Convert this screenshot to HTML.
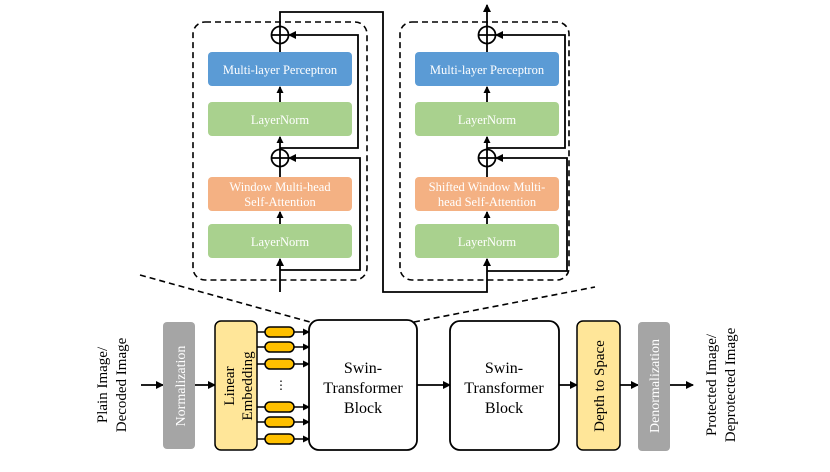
<!DOCTYPE html>
<html><head><meta charset="utf-8"><style>
html,body{margin:0;padding:0;background:#fff;}
svg text{font-family:"Liberation Serif",serif;}
</style></head><body>
<svg width="830" height="467" viewBox="0 0 830 467" xmlns="http://www.w3.org/2000/svg">
<defs>
<marker id="a" markerWidth="8" markerHeight="8" refX="7" refY="4" orient="auto" markerUnits="userSpaceOnUse"><path d="M0,0 L8,4 L0,8 z" fill="#000"/></marker>
<marker id="s" markerWidth="7" markerHeight="7" refX="6" refY="3.5" orient="auto" markerUnits="userSpaceOnUse"><path d="M0,0 L7,3.5 L0,7 z" fill="#000"/></marker>
</defs>
<rect x="193" y="22" width="174" height="258" rx="12" fill="none" stroke="#000" stroke-width="1.6" stroke-dasharray="6,4"/>
<rect x="400" y="22" width="169" height="258" rx="12" fill="none" stroke="#000" stroke-width="1.6" stroke-dasharray="6,4"/>
<line x1="140" y1="275" x2="310" y2="322" stroke="#000" stroke-width="1.6" stroke-dasharray="6,4"/>
<line x1="414" y1="322" x2="595" y2="287" stroke="#000" stroke-width="1.6" stroke-dasharray="6,4"/>

<g font-size="12.5" fill="#fff" text-anchor="middle">
<rect x="208" y="52" width="144" height="34" rx="4" fill="#5b9bd5"/>
<text x="280" y="74">Multi-layer Perceptron</text>
<rect x="208" y="102" width="144" height="34" rx="4" fill="#a9d18e"/>
<text x="280" y="124">LayerNorm</text>
<rect x="208" y="177" width="144" height="34" rx="4" fill="#f4b183"/>
<text x="280" y="191">Window Multi-head</text>
<text x="280" y="206">Self-Attention</text>
<rect x="208" y="224" width="144" height="34" rx="4" fill="#a9d18e"/>
<text x="280" y="246">LayerNorm</text>
<rect x="415" y="52" width="144" height="34" rx="4" fill="#5b9bd5"/>
<text x="487" y="74">Multi-layer Perceptron</text>
<rect x="415" y="102" width="144" height="34" rx="4" fill="#a9d18e"/>
<text x="487" y="124">LayerNorm</text>
<rect x="415" y="177" width="144" height="34" rx="4" fill="#f4b183"/>
<text x="487" y="191">Shifted Window Multi-</text>
<text x="487" y="206">head Self-Attention</text>
<rect x="415" y="224" width="144" height="34" rx="4" fill="#a9d18e"/>
<text x="487" y="246">LayerNorm</text>
</g>

<g stroke="#000" stroke-width="1.8" fill="none">
<line x1="280" y1="292" x2="280" y2="259" marker-end="url(#a)"/>
<line x1="280" y1="224" x2="280" y2="212" marker-end="url(#s)"/>
<line x1="280" y1="177" x2="280" y2="167"/>
<circle cx="280" cy="158" r="8.5"/>
<line x1="271.5" y1="158" x2="288.5" y2="158"/><line x1="280" y1="149.5" x2="280" y2="166.5"/>
<line x1="280" y1="149.5" x2="280" y2="137" marker-end="url(#s)"/>
<line x1="280" y1="102" x2="280" y2="87" marker-end="url(#s)"/>
<line x1="280" y1="52" x2="280" y2="44"/>
<circle cx="280" cy="35" r="8.5"/>
<line x1="271.5" y1="35" x2="288.5" y2="35"/><line x1="280" y1="26.5" x2="280" y2="43.5"/>
<polyline points="280,270 360,270 360,158 289,158" marker-end="url(#a)"/>
<polyline points="280,148 358,148 358,35 289,35" marker-end="url(#a)"/>
<polyline points="280,26.5 280,12 383,12 383,292 487,292 487,259" marker-end="url(#a)"/>
<line x1="487" y1="224" x2="487" y2="212" marker-end="url(#s)"/>
<line x1="487" y1="177" x2="487" y2="167"/>
<circle cx="487" cy="158" r="8.5"/>
<line x1="478.5" y1="158" x2="495.5" y2="158"/><line x1="487" y1="149.5" x2="487" y2="166.5"/>
<line x1="487" y1="149.5" x2="487" y2="137" marker-end="url(#s)"/>
<line x1="487" y1="102" x2="487" y2="87" marker-end="url(#s)"/>
<line x1="487" y1="52" x2="487" y2="44"/>
<circle cx="487" cy="35" r="8.5"/>
<line x1="478.5" y1="35" x2="495.5" y2="35"/><line x1="487" y1="26.5" x2="487" y2="43.5"/>
<line x1="487" y1="26.5" x2="487" y2="5" marker-end="url(#a)"/>
<polyline points="487,271 567,271 567,158 496,158" marker-end="url(#a)"/>
<polyline points="487,148 565,148 565,35 496,35" marker-end="url(#a)"/>
</g>

<text transform="translate(107,385) rotate(-90)" font-size="15" text-anchor="middle">Plain Image/</text>
<text transform="translate(126,385) rotate(-90)" font-size="15" text-anchor="middle">Decoded Image</text>
<g stroke="#000" stroke-width="1.8" fill="none">
<line x1="141" y1="385" x2="163" y2="385" marker-end="url(#a)"/>
<line x1="195" y1="385" x2="215" y2="385" marker-end="url(#a)"/>
<line x1="417" y1="385" x2="450" y2="385" marker-end="url(#a)"/>
<line x1="559" y1="385" x2="577" y2="385" marker-end="url(#a)"/>
<line x1="620" y1="385" x2="638" y2="385" marker-end="url(#a)"/>
<line x1="670" y1="385" x2="693" y2="385" marker-end="url(#a)"/>
</g>
<rect x="163" y="322" width="32" height="127" rx="4" fill="#a5a5a5"/>
<text transform="translate(185,386) rotate(-90)" font-size="14" fill="#fff" text-anchor="middle">Normalization</text>
<rect x="215" y="321" width="42" height="129" rx="6" fill="#ffe699" stroke="#000" stroke-width="1.5"/>
<text transform="translate(234,386) rotate(-90)" font-size="15" text-anchor="middle">Linear</text>
<text transform="translate(252,386) rotate(-90)" font-size="15" text-anchor="middle">Embedding</text>
<g stroke="#000" stroke-width="1.5">
<g fill="#ffc000">
<rect x="265" y="327" width="29" height="10" rx="5"/>
<rect x="265" y="342" width="29" height="10" rx="5"/>
<rect x="265" y="359" width="29" height="10" rx="5"/>
<rect x="265" y="402" width="29" height="10" rx="5"/>
<rect x="265" y="417" width="29" height="10" rx="5"/>
<rect x="265" y="434" width="29" height="10" rx="5"/>
</g>
<g fill="none">
<line x1="257" y1="332" x2="265" y2="332"/><line x1="257" y1="347" x2="265" y2="347"/><line x1="257" y1="364" x2="265" y2="364"/>
<line x1="257" y1="407" x2="265" y2="407"/><line x1="257" y1="422" x2="265" y2="422"/><line x1="257" y1="439" x2="265" y2="439"/>
<line x1="294" y1="332" x2="309" y2="332" marker-end="url(#s)"/><line x1="294" y1="347" x2="309" y2="347" marker-end="url(#s)"/><line x1="294" y1="364" x2="309" y2="364" marker-end="url(#s)"/>
<line x1="294" y1="407" x2="309" y2="407" marker-end="url(#s)"/><line x1="294" y1="422" x2="309" y2="422" marker-end="url(#s)"/><line x1="294" y1="439" x2="309" y2="439" marker-end="url(#s)"/>
</g>
</g>
<text x="281" y="389" font-size="12" text-anchor="middle">⋮</text>
<rect x="309" y="320" width="108" height="130" rx="10" fill="#fff" stroke="#000" stroke-width="1.8"/>
<g font-size="16" text-anchor="middle">
<text x="363" y="373">Swin-</text>
<text x="363" y="393">Transformer</text>
<text x="363" y="413">Block</text>
</g>
<rect x="450" y="321" width="109" height="129" rx="10" fill="#fff" stroke="#000" stroke-width="1.8"/>
<g font-size="16" text-anchor="middle">
<text x="504" y="373">Swin-</text>
<text x="504" y="393">Transformer</text>
<text x="504" y="413">Block</text>
</g>
<rect x="577" y="321" width="43" height="129" rx="6" fill="#ffe699" stroke="#000" stroke-width="1.5"/>
<text transform="translate(604,386) rotate(-90)" font-size="15" text-anchor="middle">Depth to Space</text>
<rect x="638" y="322" width="32" height="129" rx="4" fill="#a5a5a5"/>
<text transform="translate(659,386) rotate(-90)" font-size="14" fill="#fff" text-anchor="middle">Denormalization</text>
<text transform="translate(716,385) rotate(-90)" font-size="15" text-anchor="middle">Protected Image/</text>
<text transform="translate(735,385) rotate(-90)" font-size="15" text-anchor="middle">Deprotected Image</text>
</svg>
</body></html>
